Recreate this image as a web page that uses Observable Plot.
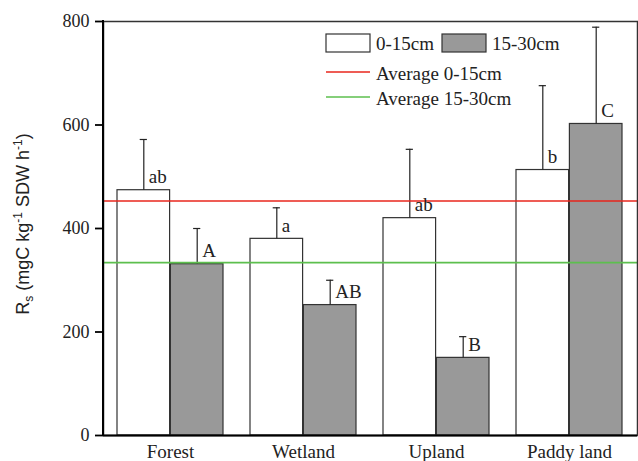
<!DOCTYPE html>
<html><head><meta charset="utf-8">
<script src="https://cdn.jsdelivr.net/npm/d3@7"></script>
<script src="https://cdn.jsdelivr.net/npm/@observablehq/plot@0.6"></script>
<style>html,body{margin:0;padding:0;background:#fff} svg{display:block}</style>
</head><body><div id="chart"></div>
<script>
// ---- data ----
const lands = ["Forest", "Wetland", "Upland", "Paddy land"];
const shallow = [474, 380, 420, 513];          // 0-15cm
const shallowErr = [98, 60, 133, 163];
const shallowLetters = ["ab", "a", "ab", "b"];
const deep = [331, 252, 150, 602];             // 15-30cm
const deepErr = [69, 48, 41, 187];
const deepLetters = ["A", "AB", "B", "C"];
const avgShallow = 453;
const avgDeep = 334;
const yTicks = [0, 200, 400, 600, 800];
const seriesLabels = ["0-15cm", "15-30cm"];
const avgLabels = ["Average 0-15cm", "Average 15-30cm"];

// ---- layout ----
const W = 638, H = 461;
const mL = 103, mR = 1, mT = 21, mB = 26;
const padIn = 0.2, padOut = 0.1;
const step = (W - mL - mR) / (lands.length - padIn + 2 * padOut);
const bw = step * (1 - padIn);
const half = bw / 2, quarter = bw / 4;
const cap = 4;

const rowsS = lands.map((land, i) => ({land, value: shallow[i], err: shallowErr[i], letter: shallowLetters[i]}));
const rowsD = lands.map((land, i) => ({land, value: deep[i], err: deepErr[i], letter: deepLetters[i]}));
const errTop = d => d.value + d.err;

const serif = "'Liberation Serif','Times New Roman',serif";
const ink = "#222";

const plot = Plot.plot({
  width: W, height: H,
  marginLeft: mL, marginRight: mR, marginTop: mT, marginBottom: mB,
  style: {fontFamily: serif, background: "#fff", color: ink},
  x: {type: "band", domain: lands, paddingInner: padIn, paddingOuter: padOut, align: 0.5, label: null},
  y: {domain: [0, 800], label: null},
  marks: [
    Plot.barY(rowsS, {x: "land", y: "value", fill: "#fff", stroke: "#333", strokeWidth: 1.2, insetRight: half}),
    Plot.barY(rowsD, {x: "land", y: "value", fill: "#999", stroke: "#333", strokeWidth: 1.2, insetLeft: half}),
    Plot.ruleX(rowsS, {x: "land", y1: "value", y2: errTop, dx: -quarter, stroke: ink, strokeWidth: 1.2}),
    Plot.ruleX(rowsD, {x: "land", y1: "value", y2: errTop, dx: quarter, stroke: ink, strokeWidth: 1.2}),
    Plot.tickY(rowsS, {x: "land", y: errTop, insetLeft: quarter - cap, insetRight: bw - quarter - cap, stroke: ink, strokeWidth: 1.2}),
    Plot.tickY(rowsD, {x: "land", y: errTop, insetLeft: bw - quarter - cap, insetRight: quarter - cap, stroke: ink, strokeWidth: 1.2}),
    Plot.ruleY([avgShallow], {stroke: "#e8261c", strokeWidth: 1.6}),
    Plot.ruleY([avgDeep], {stroke: "#5dbf4e", strokeWidth: 1.6}),
    Plot.text(rowsS, {x: "land", y: "value", text: "letter", dx: -quarter + 5, dy: -13, textAnchor: "start", lineAnchor: "middle", fontSize: 19, fill: ink}),
    Plot.text(rowsD, {x: "land", y: "value", text: "letter", dx: quarter + 5, dy: -13, textAnchor: "start", lineAnchor: "middle", fontSize: 19, fill: ink}),
    Plot.frame({stroke: "#333", strokeWidth: 1.5}),
    Plot.ruleY([0], {stroke: "#000", strokeWidth: 2}),
    Plot.axisY({ticks: yTicks, tickSize: 8, tickPadding: 6, fontSize: 18, stroke: "#000", strokeWidth: 1.8, label: null}),
    Plot.axisX({tickSize: 0, tickPadding: 9, fontSize: 19, label: null})
  ]
});

document.getElementById("chart").appendChild(plot);
const svg = d3.select(plot);

// left axis line
svg.append("line").attr("x1", mL).attr("x2", mL).attr("y1", mT - 1).attr("y2", H - mB + 1)
  .attr("stroke", "#000").attr("stroke-width", 2);

// y axis title
const t = svg.append("text")
  .attr("transform", `translate(29,224) rotate(-90)`)
  .style("text-anchor", "middle")
  .style("font-family", "'Liberation Sans',Arial,sans-serif")
  .style("font-size", "18px").attr("fill", ink);
t.append("tspan").text("R");
t.append("tspan").attr("dy", 4).style("font-size", "12px").text("s");
t.append("tspan").attr("dy", -4).text(" (mgC kg");
t.append("tspan").attr("dy", -7).style("font-size", "12px").text("-1");
t.append("tspan").attr("dy", 7).text(" SDW h");
t.append("tspan").attr("dy", -7).style("font-size", "12px").text("-1");
t.append("tspan").attr("dy", 7).text(")");

// legend
const lg = svg.append("g").style("font-family", serif).style("font-size", "19px")
  .style("text-anchor", "start").attr("fill", ink);
const lx = 326;
lg.append("rect").attr("x", lx).attr("y", 34).attr("width", 44).attr("height", 18).attr("fill", "#fff").attr("stroke", "#333").attr("stroke-width", 1.2);
lg.append("text").attr("x", lx + 50).attr("y", 50).text(seriesLabels[0]);
lg.append("rect").attr("x", 442).attr("y", 34).attr("width", 44).attr("height", 18).attr("fill", "#999").attr("stroke", "#333").attr("stroke-width", 1.2);
lg.append("text").attr("x", 492).attr("y", 50).text(seriesLabels[1]);
lg.append("line").attr("x1", lx).attr("x2", lx + 44).attr("y1", 72).attr("y2", 72).attr("stroke", "#e8261c").attr("stroke-width", 1.4);
lg.append("text").attr("x", lx + 50).attr("y", 80).text(avgLabels[0]);
lg.append("line").attr("x1", lx).attr("x2", lx + 44).attr("y1", 97).attr("y2", 97).attr("stroke", "#5dbf4e").attr("stroke-width", 1.4);
lg.append("text").attr("x", lx + 50).attr("y", 105).text(avgLabels[1]);
</script>
</body></html>
